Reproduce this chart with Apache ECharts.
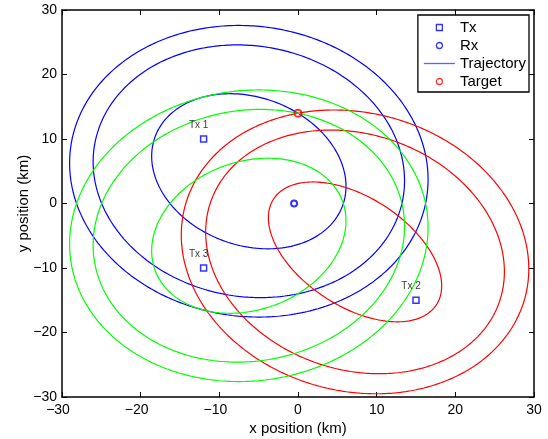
<!DOCTYPE html>
<html><head><meta charset="utf-8">
<script src="https://cdn.jsdelivr.net/npm/echarts@6/dist/echarts.min.js"></script>
<style>html,body{margin:0;padding:0;background:#fff}#c{width:548px;height:439px}</style>
</head><body><div id="c"></div>
<script>
// ---- data ----
const axisTicks = [-30, -20, -10, 0, 10, 20, 30];
const txNames = ['Tx 1', 'Tx 2', 'Tx 3'];
const txX = [-12, 15, -12];
const txY = [10, -15, -10];
const rxPos = [-0.5, 0];
const targetPos = [0, 14];
// bistatic range sums (Tx->target->Rx), km; one ellipse per transmitter for each
const rangeSums = [26.65, 40.83, 46.65];
const ellipseColors = ['#0000ff', '#ff0000', '#00ff00'];

// ellipse with foci f1,f2 and constant distance sum L
function ellipsePoints(f1, f2, L, n) {
  const cx = (f1[0] + f2[0]) / 2, cy = (f1[1] + f2[1]) / 2;
  const dx = f2[0] - f1[0], dy = f2[1] - f1[1];
  const c = Math.hypot(dx, dy) / 2, a = L / 2, b = Math.sqrt(a * a - c * c);
  const th = Math.atan2(dy, dx), ct = Math.cos(th), st = Math.sin(th);
  const pts = [];
  for (let i = 0; i <= n; i++) {
    const t = 2 * Math.PI * i / n;
    const u = a * Math.cos(t), v = b * Math.sin(t);
    pts.push([cx + u * ct - v * st, cy + u * st + v * ct]);
  }
  return pts;
}

const FONT = '"Liberation Sans", Arial, sans-serif';
const series = [];
txNames.forEach((nm, i) => {
  rangeSums.forEach((L, j) => {
    series.push({
      type: 'line', name: 'ellipse ' + nm + ' ' + j, silent: true,
      data: ellipsePoints([txX[i], txY[i]], rxPos, L, 400),
      showSymbol: false, symbol: 'none', smooth: false, animation: false,
      lineStyle: { color: ellipseColors[i], width: 1.2 }, z: 2
    });
  });
});
series.push({
  type: 'scatter', name: 'Tx', symbol: 'rect', symbolSize: 6, z: 5,
  data: txNames.map((nm, i) => ({ value: [txX[i], txY[i]], name: nm })),
  itemStyle: { color: 'transparent', borderColor: '#0000ff', borderWidth: 1.5 },
  label: { show: true, position: 'top', distance: 4, offset: [-5, -1], formatter: p => p.name,
           fontFamily: FONT, fontSize: 10, color: '#000' }
});
series.push({
  type: 'scatter', name: 'Rx', symbol: 'circle', symbolSize: 6, z: 5,
  data: [rxPos],
  itemStyle: { color: 'transparent', borderColor: '#0000ff', borderWidth: 2 }
});
series.push({
  type: 'scatter', name: 'Trajectory', data: [],
  itemStyle: { color: '#0000ff' }
});
series.push({
  type: 'scatter', name: 'Target', symbol: 'circle', symbolSize: 7, z: 6,
  data: [targetPos],
  itemStyle: { color: 'transparent', borderColor: '#ff0000', borderWidth: 2 }
});

const baseAxis = {
  type: 'value', min: axisTicks[0], max: axisTicks[axisTicks.length - 1], interval: 10,
  splitLine: { show: false },
  axisLine: { show: true, onZero: false, lineStyle: { color: '#000', width: 1.5 } },
  axisTick: { show: true, inside: true, length: 5, lineStyle: { color: '#000', width: 1 } }
};
const nameStyle = { fontFamily: FONT, fontSize: 15, color: '#000' };

const option = {
  animation: false,
  backgroundColor: '#fff',
  grid: { left: 62, right: 14, top: 10, bottom: 42, containLabel: false, outerBoundsMode: 'none' },
  xAxis: [
    Object.assign({}, baseAxis, { position: 'bottom',
      axisLabel: { margin: 6, fontFamily: FONT, fontSize: 14, color: '#000',
        formatter: v => v < 0 ? '{n|\u2212' + Math.abs(v) + '}' : String(v),
        rich: { n: { fontFamily: FONT, fontSize: 14, color: '#000', padding: [0, 8, 0, 0] } } },
      name: 'x position (km)', nameLocation: 'middle', nameGap: 24, nameMoveOverlap: false,
      nameTextStyle: nameStyle }),
    Object.assign({}, baseAxis, { position: 'top', axisLabel: { show: false } })
  ],
  yAxis: [
    Object.assign({}, baseAxis, { position: 'left',
      axisLabel: { margin: 5, fontFamily: FONT, fontSize: 14, color: '#000',
        formatter: v => String(v).replace('-', '\u2212') },
      name: 'y position (km)', nameLocation: 'middle', nameGap: 31, nameRotate: 90, nameMoveOverlap: false,
      nameTextStyle: nameStyle }),
    Object.assign({}, baseAxis, { position: 'right', axisLabel: { show: false } })
  ],
  legend: {
    orient: 'vertical', right: 19, top: 15, backgroundColor: '#fff',
    borderColor: '#000', borderWidth: 1.3, borderRadius: 0, padding: [5, 3, 3, 6],
    itemWidth: 31, itemHeight: 6, itemGap: 3, itemTextGap: 3, symbolKeepAspect: true,
    textStyle: { fontFamily: FONT, fontSize: 15, color: '#000', lineHeight: 15 },
    data: [
      { name: 'Tx', icon: 'path://M0,0H10V10H0Z', itemStyle: { color: 'transparent', borderColor: '#0000ff', borderWidth: 1.3 } },
      { name: 'Rx', icon: 'circle', itemStyle: { color: 'transparent', borderColor: '#0000ff', borderWidth: 1.3 } },
      { name: 'Trajectory', icon: 'path://M0,0H31V1.3H0Z', itemStyle: { color: '#3a3aff', borderWidth: 0 } },
      { name: 'Target', icon: 'circle', itemStyle: { color: 'transparent', borderColor: '#ff0000', borderWidth: 1.3 } }
    ],
    selectedMode: false
  },
  series: series
};
const chart = echarts.init(document.getElementById('c'), null, { renderer: 'canvas' });
chart.setOption(option);
</script></body></html>
